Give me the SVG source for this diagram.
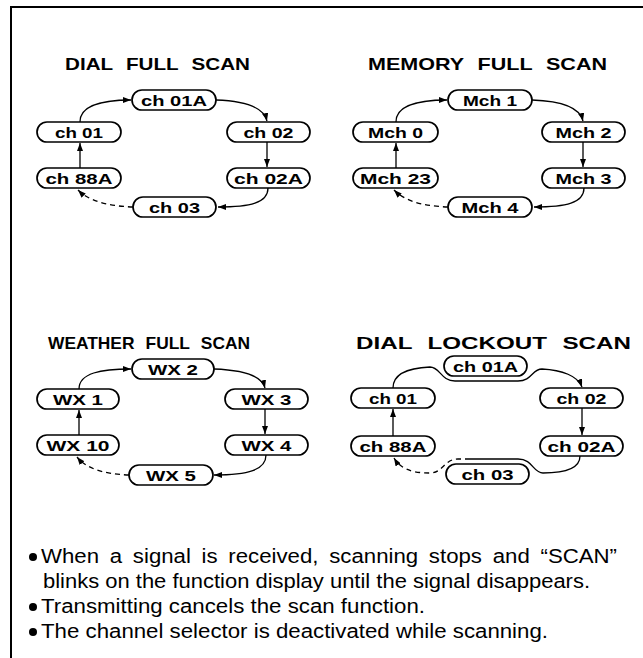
<svg xmlns="http://www.w3.org/2000/svg" width="643" height="658" viewBox="0 0 643 658">
<style>
.frame{fill:none;stroke:#000;stroke-width:2}
.n rect{fill:#fff;stroke:#000;stroke-width:1.7}
.n text{font-family:"Liberation Sans",Arial,sans-serif;font-weight:bold;font-size:15.5px;text-anchor:middle;fill:#000}
.c path{fill:none;stroke:#000;stroke-width:1.3}
.c .d{stroke-dasharray:5 4}
.t{font-family:"Liberation Sans",Arial,sans-serif;font-weight:bold;font-size:16.5px;word-spacing:6px;fill:#000}
.b{font-family:"Liberation Sans",Arial,sans-serif;font-size:19.5px;fill:#000}
</style>
<defs>
<marker id="ah" markerUnits="userSpaceOnUse" markerWidth="8" markerHeight="6" refX="8" refY="3" orient="auto">
<path d="M0,0 L8,3 L0,6 z" fill="#000"/>
</marker>
</defs>
<rect width="643" height="658" fill="#fff"/>
<path class="frame" d="M11,658 V7 H643"/>

<text class="t" x="65" y="70" textLength="185" lengthAdjust="spacingAndGlyphs">DIAL FULL SCAN</text>
<text class="t" x="368" y="70" textLength="239" lengthAdjust="spacingAndGlyphs">MEMORY FULL SCAN</text>
<text class="t" x="48" y="349" textLength="202" lengthAdjust="spacingAndGlyphs">WEATHER FULL SCAN</text>
<text class="t" x="356" y="349" textLength="275" lengthAdjust="spacingAndGlyphs">DIAL LOCKOUT SCAN</text>

<g id="connectors" class="c">
<!-- dial full scan -->
<path d="M80,122 C80,106 102,100 131,100" marker-end="url(#ah)"/>
<path d="M216,100 C246,101 264,108 267,121" marker-end="url(#ah)"/>
<path d="M267,142 L267,167" marker-end="url(#ah)"/>
<path d="M268,188 C268,203 250,207 218,207" marker-end="url(#ah)"/>
<path class="d" d="M133,207 C105,206 88,200 78,190" marker-end="url(#ah)"/>
<path d="M80,168 L80,143" marker-end="url(#ah)"/>
<!-- memory full scan -->
<path d="M396,122 C396,106 418,100 447,100" marker-end="url(#ah)"/>
<path d="M532,100 C562,101 580,108 583,121" marker-end="url(#ah)"/>
<path d="M583,142 L583,167" marker-end="url(#ah)"/>
<path d="M584,188 C584,203 566,207 534,207" marker-end="url(#ah)"/>
<path class="d" d="M448,207 C420,206 404,200 394,190" marker-end="url(#ah)"/>
<path d="M396,168 L396,143" marker-end="url(#ah)"/>
<!-- weather full scan -->
<path d="M79,389 C79,373 101,369 131,369" marker-end="url(#ah)"/>
<path d="M214,369 C243,370 262,376 265,388" marker-end="url(#ah)"/>
<path d="M265,409 L265,434" marker-end="url(#ah)"/>
<path d="M266,455 C266,470 248,475 214,475" marker-end="url(#ah)"/>
<path class="d" d="M129,475 C102,474 86,468 77,457" marker-end="url(#ah)"/>
<path d="M79,435 L79,410" marker-end="url(#ah)"/>
<!-- dial lockout scan -->
<path d="M393,388 C393,374 408,368 430,367 C440,367 441,381 455,381 L518,381 C532,381 532,369 542,369 C562,370 578,376 582,387" marker-end="url(#ah)"/>
<path d="M582,408 L582,435" marker-end="url(#ah)"/>
<path d="M580,456 C580,469 565,473 543,473 C533,473 533,459 518,459 L470,459"/>
<path class="d" d="M470,459 L458,459 C444,459 443,473 430,473 C410,473 400,468 394,458" marker-end="url(#ah)"/>
<path d="M393,436 L393,409" marker-end="url(#ah)"/>
</g>

<!-- DIAL FULL SCAN nodes -->
<g id="d-ch01A" class="n"><rect x="132" y="90" width="84" height="20" rx="10"/><text x="174" y="106" textLength="66" lengthAdjust="spacingAndGlyphs">ch 01A</text></g>
<g id="d-ch01" class="n"><rect x="37" y="122" width="84" height="20" rx="10"/><text x="79" y="138" textLength="48" lengthAdjust="spacingAndGlyphs">ch 01</text></g>
<g id="d-ch02" class="n"><rect x="227" y="122" width="83" height="20" rx="10"/><text x="268.5" y="138" textLength="50" lengthAdjust="spacingAndGlyphs">ch 02</text></g>
<g id="d-ch88A" class="n"><rect x="37" y="168" width="84" height="20" rx="10"/><text x="79" y="184" textLength="67" lengthAdjust="spacingAndGlyphs">ch 88A</text></g>
<g id="d-ch02A" class="n"><rect x="227" y="168" width="83" height="20" rx="10"/><text x="268.5" y="184" textLength="69" lengthAdjust="spacingAndGlyphs">ch 02A</text></g>
<g id="d-ch03" class="n"><rect x="133" y="197" width="83" height="20" rx="10"/><text x="174.5" y="213" textLength="51" lengthAdjust="spacingAndGlyphs">ch 03</text></g>

<!-- MEMORY FULL SCAN nodes -->
<g id="m-mch1" class="n"><rect x="448" y="90" width="84" height="20" rx="10"/><text x="490" y="106" textLength="54" lengthAdjust="spacingAndGlyphs">Mch 1</text></g>
<g id="m-mch0" class="n"><rect x="353" y="122" width="85" height="20" rx="10"/><text x="395.5" y="138" textLength="55" lengthAdjust="spacingAndGlyphs">Mch 0</text></g>
<g id="m-mch2" class="n"><rect x="542" y="122" width="83" height="20" rx="10"/><text x="583.5" y="138" textLength="56" lengthAdjust="spacingAndGlyphs">Mch 2</text></g>
<g id="m-mch23" class="n"><rect x="353" y="168" width="85" height="20" rx="10"/><text x="395.5" y="184" textLength="71" lengthAdjust="spacingAndGlyphs">Mch 23</text></g>
<g id="m-mch3" class="n"><rect x="542" y="168" width="83" height="20" rx="10"/><text x="583.5" y="184" textLength="56" lengthAdjust="spacingAndGlyphs">Mch 3</text></g>
<g id="m-mch4" class="n"><rect x="448" y="197" width="84" height="20" rx="10"/><text x="490" y="213" textLength="57" lengthAdjust="spacingAndGlyphs">Mch 4</text></g>

<!-- WEATHER FULL SCAN nodes -->
<g id="w-wx2" class="n"><rect x="132" y="359" width="82" height="20" rx="10"/><text x="173" y="375" textLength="50" lengthAdjust="spacingAndGlyphs">WX 2</text></g>
<g id="w-wx1" class="n"><rect x="37" y="389" width="82" height="20" rx="10"/><text x="78" y="405" textLength="50" lengthAdjust="spacingAndGlyphs">WX 1</text></g>
<g id="w-wx3" class="n"><rect x="225" y="389" width="83" height="20" rx="10"/><text x="266.5" y="405" textLength="50" lengthAdjust="spacingAndGlyphs">WX 3</text></g>
<g id="w-wx10" class="n"><rect x="37" y="435" width="82" height="20" rx="10"/><text x="78" y="451" textLength="63" lengthAdjust="spacingAndGlyphs">WX 10</text></g>
<g id="w-wx4" class="n"><rect x="225" y="435" width="83" height="20" rx="10"/><text x="266.5" y="451" textLength="50" lengthAdjust="spacingAndGlyphs">WX 4</text></g>
<g id="w-wx5" class="n"><rect x="129" y="465" width="84" height="20" rx="10"/><text x="171" y="481" textLength="50" lengthAdjust="spacingAndGlyphs">WX 5</text></g>

<!-- DIAL LOCKOUT SCAN nodes -->
<g id="l-ch01A" class="n"><rect x="444" y="356" width="83" height="20" rx="10"/><text x="485.5" y="372" textLength="65" lengthAdjust="spacingAndGlyphs">ch 01A</text></g>
<g id="l-ch01" class="n"><rect x="351" y="388" width="84" height="20" rx="10"/><text x="393" y="404" textLength="48" lengthAdjust="spacingAndGlyphs">ch 01</text></g>
<g id="l-ch02" class="n"><rect x="540" y="388" width="83" height="20" rx="10"/><text x="581.5" y="404" textLength="50" lengthAdjust="spacingAndGlyphs">ch 02</text></g>
<g id="l-ch88A" class="n"><rect x="351" y="436" width="84" height="20" rx="10"/><text x="393" y="452" textLength="67" lengthAdjust="spacingAndGlyphs">ch 88A</text></g>
<g id="l-ch02A" class="n"><rect x="540" y="436" width="83" height="20" rx="10"/><text x="581.5" y="452" textLength="68" lengthAdjust="spacingAndGlyphs">ch 02A</text></g>
<g id="l-ch03" class="n"><rect x="446" y="464" width="83" height="20" rx="10"/><text x="487.5" y="480" textLength="52" lengthAdjust="spacingAndGlyphs">ch 03</text></g>

<!-- notes -->
<circle cx="33" cy="557" r="4"/>
<text class="b" x="41" y="563" textLength="576" lengthAdjust="spacingAndGlyphs" style="word-spacing:4px">When a signal is received, scanning stops and “SCAN”</text>
<text class="b" x="43" y="588" textLength="547" lengthAdjust="spacingAndGlyphs">blinks on the function display until the signal disappears.</text>
<circle cx="33" cy="607" r="4"/>
<text class="b" x="41" y="613" textLength="384" lengthAdjust="spacingAndGlyphs">Transmitting cancels the scan function.</text>
<circle cx="33" cy="632" r="4"/>
<text class="b" x="41" y="638" textLength="507" lengthAdjust="spacingAndGlyphs">The channel selector is deactivated while scanning.</text>
</svg>
